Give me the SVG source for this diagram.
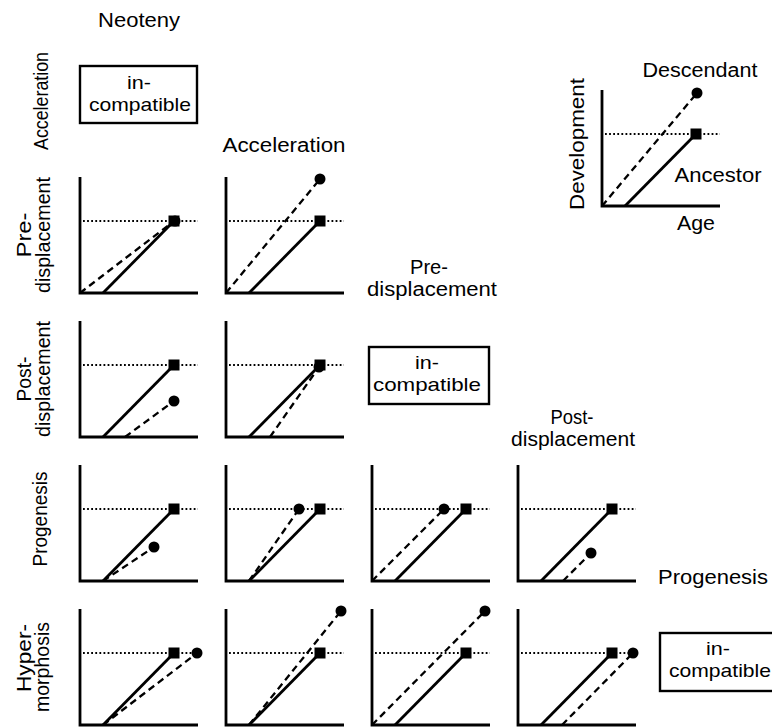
<svg xmlns="http://www.w3.org/2000/svg" width="772" height="727" viewBox="0 0 772 727">
<style>
text{font-family:"Liberation Sans",Arial,sans-serif;font-size:20px;fill:#000}
.bx{font-size:19px}
.vl{font-size:21px}
.ax{fill:none;stroke:#000;stroke-width:2.8}
.dot{fill:none;stroke:#000;stroke-width:2.2;stroke-dasharray:1.8 2.3}
.anc{fill:none;stroke:#000;stroke-width:2.8}
.des{fill:none;stroke:#000;stroke-width:2.3;stroke-dasharray:7 4.5}
.box{fill:#fff;stroke:#000;stroke-width:2.4}
</style>
<defs>
<g id="frame">
<path class="ax" d="M0,0 V116 H118"/>
<path class="dot" d="M3,44 H118"/>
<path class="anc" d="M23,116 L94,44"/>
<rect x="88.5" y="38.5" width="11" height="11" fill="#000"/>
</g>
</defs>
<rect width="772" height="727" fill="#fff"/>

<g id="column-labels">
<text x="139" y="27" text-anchor="middle" textLength="82" lengthAdjust="spacingAndGlyphs">Neoteny</text>
<text x="284" y="152" text-anchor="middle" textLength="123" lengthAdjust="spacingAndGlyphs">Acceleration</text>
<text x="429" y="274" text-anchor="middle" textLength="38" lengthAdjust="spacingAndGlyphs">Pre-</text>
<text x="432" y="296" text-anchor="middle" textLength="130" lengthAdjust="spacingAndGlyphs">displacement</text>
<text x="572" y="424" text-anchor="middle" textLength="43" lengthAdjust="spacingAndGlyphs">Post-</text>
<text x="573" y="446" text-anchor="middle" textLength="124" lengthAdjust="spacingAndGlyphs">displacement</text>
<text x="713" y="584" text-anchor="middle" textLength="110" lengthAdjust="spacingAndGlyphs">Progenesis</text>
</g>

<g id="row-labels">
<text class="vl" transform="translate(48,101) rotate(-90)" text-anchor="middle" textLength="98" lengthAdjust="spacingAndGlyphs">Acceleration</text>
<text class="vl" transform="translate(31,235) rotate(-90)" text-anchor="middle" textLength="45" lengthAdjust="spacingAndGlyphs">Pre-</text>
<text class="vl" transform="translate(50,235) rotate(-90)" text-anchor="middle" textLength="116" lengthAdjust="spacingAndGlyphs">displacement</text>
<text class="vl" transform="translate(31,379) rotate(-90)" text-anchor="middle" textLength="45" lengthAdjust="spacingAndGlyphs">Post-</text>
<text class="vl" transform="translate(50,379) rotate(-90)" text-anchor="middle" textLength="116" lengthAdjust="spacingAndGlyphs">displacement</text>
<text class="vl" transform="translate(47,519) rotate(-90)" text-anchor="middle" textLength="95" lengthAdjust="spacingAndGlyphs">Progenesis</text>
<text class="vl" transform="translate(31,658) rotate(-90)" text-anchor="middle" textLength="68" lengthAdjust="spacingAndGlyphs">Hyper-</text>
<text class="vl" transform="translate(49,667) rotate(-90)" text-anchor="middle" textLength="90" lengthAdjust="spacingAndGlyphs">morphosis</text>
</g>

<g id="key">
<use href="#frame" transform="translate(602,90)"/>
<path class="des" d="M602,206 L697,93"/>
<circle cx="697" cy="93" r="5.5"/>
<text x="700" y="77" text-anchor="middle" textLength="115" lengthAdjust="spacingAndGlyphs">Descendant</text>
<text x="718" y="182" text-anchor="middle" textLength="87" lengthAdjust="spacingAndGlyphs">Ancestor</text>
<text x="696" y="230" text-anchor="middle" textLength="38" lengthAdjust="spacingAndGlyphs">Age</text>
<text class="vl" transform="translate(584,144) rotate(-90)" text-anchor="middle" textLength="132" lengthAdjust="spacingAndGlyphs">Development</text>
</g>

<g id="incompatible-1">
<rect class="box" x="80" y="66" width="117" height="57"/>
<text class="bx" x="139" y="89" text-anchor="middle" textLength="24" lengthAdjust="spacingAndGlyphs">in-</text>
<text class="bx" x="140" y="111" text-anchor="middle" textLength="102" lengthAdjust="spacingAndGlyphs">compatible</text>
</g>
<g id="incompatible-2">
<rect class="box" x="369" y="347" width="120" height="57"/>
<text class="bx" x="427" y="369" text-anchor="middle" textLength="24" lengthAdjust="spacingAndGlyphs">in-</text>
<text class="bx" x="427" y="391" text-anchor="middle" textLength="108" lengthAdjust="spacingAndGlyphs">compatible</text>
</g>
<g id="incompatible-3">
<rect class="box" x="660" y="633" width="120" height="58"/>
<text class="bx" x="718" y="655" text-anchor="middle" textLength="24" lengthAdjust="spacingAndGlyphs">in-</text>
<text class="bx" x="720" y="677" text-anchor="middle" textLength="102" lengthAdjust="spacingAndGlyphs">compatible</text>
</g>

<g id="plot-r1c1" transform="translate(80,177)">
<use href="#frame"/>
<path class="des" d="M0,116 L94,44"/><circle cx="95" cy="44" r="5.5"/>
</g>
<g id="plot-r1c2" transform="translate(226,177)">
<use href="#frame"/>
<path class="des" d="M0,116 L94,2"/><circle cx="94" cy="2" r="5.5"/>
</g>

<g id="plot-r2c1" transform="translate(80,321)">
<use href="#frame"/>
<path class="des" d="M45,116 L94,80"/><circle cx="94" cy="80" r="5.5"/>
</g>
<g id="plot-r2c2" transform="translate(226,321)">
<use href="#frame"/>
<path class="des" d="M44,116 L93,46"/><circle cx="93" cy="46" r="5.5"/>
</g>

<g id="plot-r3c1" transform="translate(80,465)">
<use href="#frame"/>
<path class="des" d="M23,116 L74,82"/><circle cx="74" cy="82" r="5.5"/>
</g>
<g id="plot-r3c2" transform="translate(226,465)">
<use href="#frame"/>
<path class="des" d="M23,116 L73,44"/><circle cx="73" cy="44" r="5.5"/>
</g>
<g id="plot-r3c3" transform="translate(372,465)">
<use href="#frame"/>
<path class="des" d="M0,116 L72,44"/><circle cx="72" cy="44" r="5.5"/>
</g>
<g id="plot-r3c4" transform="translate(518,465)">
<use href="#frame"/>
<path class="des" d="M45,116 L73,88"/><circle cx="73" cy="88" r="5.5"/>
</g>

<g id="plot-r4c1" transform="translate(80,609)">
<use href="#frame"/>
<path class="des" d="M23,116 L117,44"/><circle cx="117" cy="44" r="5.5"/>
</g>
<g id="plot-r4c2" transform="translate(226,609)">
<use href="#frame"/>
<path class="des" d="M23,116 L115,2"/><circle cx="115" cy="2" r="5.5"/>
</g>
<g id="plot-r4c3" transform="translate(372,609)">
<use href="#frame"/>
<path class="des" d="M0,116 L113,2"/><circle cx="113" cy="2" r="5.5"/>
</g>
<g id="plot-r4c4" transform="translate(518,609)">
<use href="#frame"/>
<path class="des" d="M44,116 L115,44"/><circle cx="115" cy="44" r="5.5"/>
</g>
</svg>
